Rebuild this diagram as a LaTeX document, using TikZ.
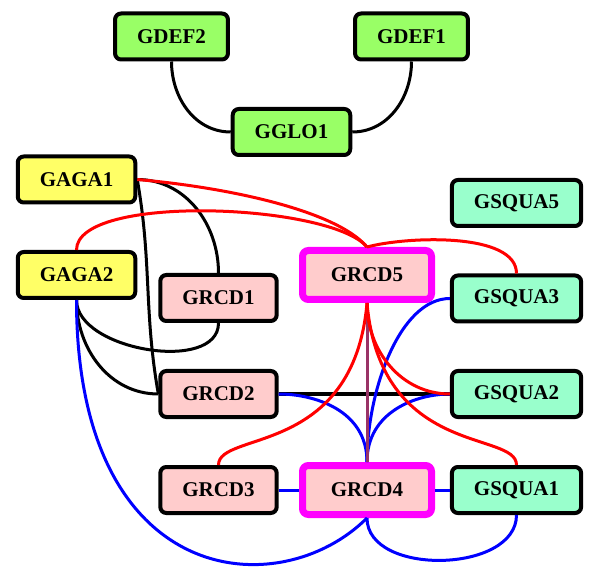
\documentclass[tikz,border=0pt]{standalone}
\usepackage{fontspec}
\setmainfont{Liberation Serif}
\definecolor{defgreen}{HTML}{99FF66}
\definecolor{agayellow}{HTML}{FFFF66}
\definecolor{rcdpink}{HTML}{FFCCCC}
\definecolor{squaqua}{HTML}{99FFCC}
\definecolor{hubmagenta}{HTML}{FF00FF}
\definecolor{linkpurple}{HTML}{993366}
\begin{document}
\begin{tikzpicture}[x=1pt,y=1pt,
    gene/.style={draw,line width=4pt,rounded corners=6pt,minimum height=46pt,
        inner xsep=22pt,font=\fontsize{21}{24}\selectfont\bfseries},
    hub/.style={gene,draw=hubmagenta,line width=7pt,minimum width=129pt,minimum height=49pt},
    link/.style={line width=3pt}]
    \useasboundingbox (0,0) rectangle (600,-577);

    \node[gene,fill=defgreen] (GDEF2) at (171.5,-36.5) {GDEF2};
    \node[gene,fill=defgreen] (GDEF1) at (411.5,-36.5) {GDEF1};
    \node[gene,fill=defgreen] (GGLO1) at (291.5,-132) {GGLO1};
    \node[gene,fill=agayellow] (GAGA1) at (76.5,-179.5) {GAGA1};
    \node[gene,fill=agayellow] (GAGA2) at (76.5,-275) {GAGA2};
    \node[gene,fill=squaqua] (GSQUA5) at (516.5,-203) {GSQUA5};
    \node[hub,fill=rcdpink] (GRCD5) at (367,-275) {GRCD5};
    \node[gene,fill=rcdpink] (GRCD1) at (218.5,-298) {GRCD1};
    \node[gene,fill=squaqua] (GSQUA3) at (516.5,-298.5) {GSQUA3};
    \node[gene,fill=rcdpink] (GRCD2) at (218.5,-394) {GRCD2};
    \node[gene,fill=squaqua] (GSQUA2) at (516.5,-394) {GSQUA2};
    \node[gene,fill=rcdpink] (GRCD3) at (218.5,-490) {GRCD3};
    \node[hub,fill=rcdpink] (GRCD4) at (367,-490) {GRCD4};
    \node[gene,fill=squaqua] (GSQUA1) at (516.5,-490) {GSQUA1};

    \draw[link] (GDEF2.south) to[out=-90,in=180] (GGLO1.west);
    \draw[link] (GDEF1.south) to[out=-90,in=0] (GGLO1.east);
    \draw[link] (GAGA1.east) to[out=0,in=90] (GRCD1.north);
    \draw[link] (GAGA1.east) to[out=-80,in=100] (GRCD2.west);
    \draw[link] (GAGA2.south) to[out=-90,in=-90,looseness=0.9] (GRCD1.south);
    \draw[link] (GAGA2.south) to[out=-90,in=180] (GRCD2.west);
    \draw[link] (GRCD2.east) -- (GSQUA2.west);

    \draw[link,blue] (GRCD2.east) to[out=0,in=90,out looseness=0.8,in looseness=1.2] (GRCD4.north);
    \draw[link,blue] (GSQUA2.west) to[out=180,in=90,out looseness=0.8,in looseness=1.2] (GRCD4.north);
    \draw[link,blue] (GSQUA3.west) to[out=180,in=90,out looseness=0.7] (GRCD4.north);
    \draw[link,blue] (GRCD3.east) -- (GRCD4.west);
    \draw[link,blue] (GRCD4.east) -- (GSQUA1.west);
    \draw[link,blue] (GRCD4.south) to[out=-90,in=-90] (GSQUA1.south);
    \draw[link,blue] (GAGA2.south) .. controls +(0,-290) and +(-87,-87) .. (GRCD4.south);

    \draw[link,linkpurple] (GRCD5.south) -- (GRCD4.north);

    \draw[link,red] (GAGA1.east) to[out=-5,in=130,out looseness=1,in looseness=0.5] (GRCD5.north);
    \draw[link,red] (GAGA2.north) to[out=90,in=130,looseness=0.5] (GRCD5.north);
    \draw[link,red] (GRCD5.north) to[out=15,in=90,looseness=0.7] (GSQUA3.north);
    \draw[link,red] (GRCD5.south) to[out=-90,in=180] (GSQUA2.west);
    \draw[link,red] (GRCD5.south) to[out=-95,in=90,out looseness=1.8,in looseness=0.4] (GRCD3.north);
    \draw[link,red] (GRCD5.south) to[out=-85,in=90,out looseness=1.8,in looseness=0.4] (GSQUA1.north);

\end{tikzpicture}
\end{document}
